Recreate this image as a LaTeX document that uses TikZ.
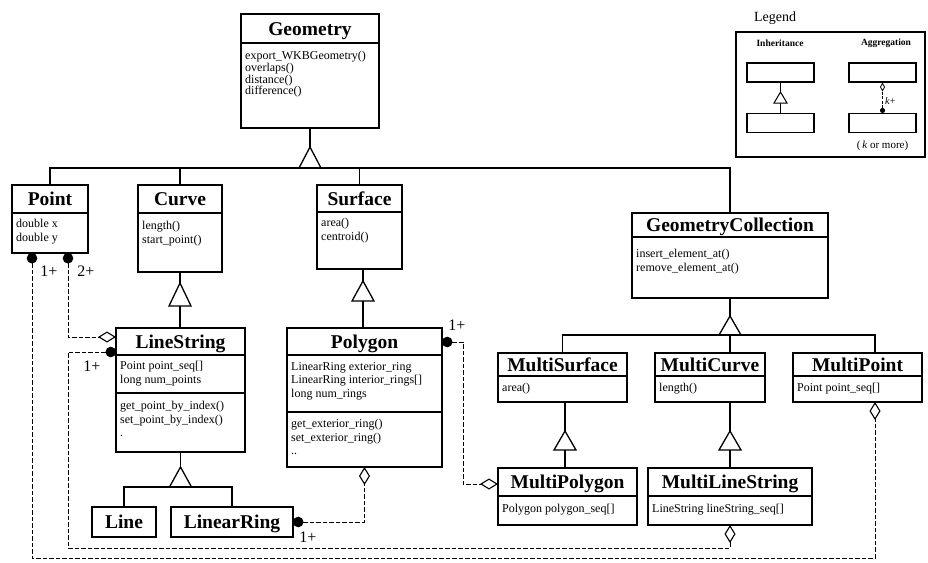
\documentclass[tikz,border=0pt]{standalone}
\usepackage{fontspec}
\setmainfont{Liberation Serif}
\usetikzlibrary{arrows.meta}

% class box from its corners: name, x1, y1, x2, y2
\newcommand\classnode[5]{%
  \node[classbox, minimum width={#4-#2}, minimum height={#5-#3}]
    (#1) at ({(#2+#4)/2},{(#3+#5)/2}) {};}
% compartment separator across a class box at height #2
\newcommand\classsep[2]{%
  \draw[sepline] (#1.west |- 0,#2) -- (#1.east |- 0,#2);}
% generalization triangle: name, x, apex y, base y
\newcommand\gentri[4]{%
  \coordinate (#1) at (#2,#3);
  \coordinate (#1-b) at (#2,#4);
  \draw[tri] (#1) -- (#2-11,#4) -- (#2+11,#4) -- cycle;}

\begin{document}
\begin{tikzpicture}[x=1pt,y=-1pt,
  classbox/.style={draw, line width=1.5pt, inner sep=0pt, outer sep=0pt},
  sepline/.style={line width=1.1pt},
  title/.style={font=\fontsize{19.5}{21}\selectfont\bfseries, inner sep=0pt, anchor=base},
  body/.style={font=\fontsize{12}{13.5}\selectfont, align=left, anchor=north west, inner sep=0pt},
  mult/.style={font=\fontsize{16}{18}\selectfont, inner sep=0pt},
  gen/.style={line width=1.2pt},
  tri/.style={line width=1.3pt, fill=white, line join=miter},
  agg/.style={line width=0.9pt, dash pattern=on 4.5pt off 2pt,
    {Circle[length=10.5pt]}-{Diamond[open,length=18pt,width=11pt,line width=1.1pt]}},
  aggsmall/.style={line width=0.8pt, dash pattern=on 3pt off 1.5pt,
    {Circle[length=5pt]}-{Diamond[open,length=9pt,width=5pt,line width=0.8pt]}},
  legframe/.style={draw, line width=1.1pt, inner sep=0pt},
  legbox/.style={draw, line width=1.1pt, inner sep=0pt, minimum width=67, minimum height=19},
  leghead/.style={font=\fontsize{9.5}{11}\selectfont\bfseries, inner sep=0pt},
]
\useasboundingbox (0,0) rectangle (928,562);

% ---------- classes ----------
\classnode{geom}{241}{14}{379}{128}
\classsep{geom}{43}
\node[title] (geomT) at (310,35) {Geometry};
\node[body, font=\fontsize{12}{11.8}\selectfont] (geomM) at (245,51)
  {export\_WKBGeometry()\\overlaps()\\distance()\\difference()};

\classnode{point}{12}{185}{88}{253}
\classsep{point}{213}
\node[title] (pointT) at (50,205.5) {Point};
\node[body] (pointA) at (16,219) {double x\\double y};

\classnode{curve}{138}{185}{222}{272}
\classsep{curve}{213}
\node[title] (curveT) at (180,205.5) {Curve};
\node[body] (curveM) at (142,221) {length()\\start\_point()};

\classnode{surface}{317}{185}{402}{269}
\classsep{surface}{212}
\node[title] (surfaceT) at (359.5,205) {Surface};
\node[body] (surfaceM) at (321,218) {area()\\centroid()};

\classnode{gc}{632}{213}{828}{298}
\classsep{gc}{237}
\node[title] (gcT) at (730,231.5) {GeometryCollection};
\node[body] (gcM) at (636,249) {insert\_element\_at()\\remove\_element\_at()};

\classnode{linestring}{116}{328}{245}{452}
\classsep{linestring}{355}
\classsep{linestring}{393}
\node[title] (linestringT) at (180.5,348) {LineString};
\node[body] (linestringA) at (120,361) {Point point\_seq[]\\long num\_points};
\node[body] (linestringM) at (120,401) {get\_point\_by\_index()\\set\_point\_by\_index()\\.};

\classnode{poly}{287}{328}{442}{467}
\classsep{poly}{355}
\classsep{poly}{412}
\node[title] (polyT) at (364.5,348) {Polygon};
\node[body] (polyA) at (291,362)
  {LinearRing exterior\_ring\\LinearRing interior\_rings[]\\long num\_rings};
\node[body] (polyM) at (291,419) {get\_exterior\_ring()\\set\_exterior\_ring()\\..};

\classnode{msurf}{498}{353}{627}{402}
\classsep{msurf}{376}
\node[title] (msurfT) at (562.5,371) {MultiSurface};
\node[body] (msurfM) at (502,383) {area()};

\classnode{mcurve}{655}{353}{765}{402}
\classsep{mcurve}{376}
\node[title] (mcurveT) at (710,371) {MultiCurve};
\node[body] (mcurveM) at (659,383) {length()};

\classnode{mpoint}{793}{353}{922}{402}
\classsep{mpoint}{376}
\node[title] (mpointT) at (857.5,371) {MultiPoint};
\node[body] (mpointA) at (797,383) {Point point\_seq[]};

\classnode{mpoly}{498}{468}{637}{525}
\classsep{mpoly}{496}
\node[title] (mpolyT) at (567.5,488.5) {MultiPolygon};
\node[body] (mpolyA) at (502,504) {Polygon polygon\_seq[]};

\classnode{mls}{648}{468}{812}{525}
\classsep{mls}{496}
\node[title] (mlsT) at (730,488.5) {MultiLineString};
\node[body] (mlsA) at (652,504) {LineString lineString\_seq[]};

\classnode{line}{92}{507}{156}{537}
\node[title] (lineT) at (124,528.5) {Line};

\classnode{lring}{171}{507}{293}{537}
\node[title] (lringT) at (232,528.5) {LinearRing};

% ---------- generalization ----------
\gentri{tG}{310}{147}{168}
\draw[gen] (geom.south) -- (tG);
\draw[gen] (point.north) |- (tG-b);
\draw[gen] (curve.north) |- (tG-b);
\draw[gen] (surface.north) |- (tG-b);
\draw[gen] (tG-b) -| (gc.north);

\gentri{tC}{180}{283}{306}
\draw[gen] (curve.south) -- (tC);
\draw[gen] (tC-b) -- (tC-b |- linestring.north);

\gentri{tS}{363}{281}{301}
\draw[gen] (tS |- surface.south) -- (tS);
\draw[gen] (tS-b) -- (tS-b |- poly.north);

\gentri{tGC}{730}{316}{335}
\coordinate (mpTop) at ([xshift=17.5pt]mpoint.north);
\draw[gen] (gc.south) -- (tGC);
\draw[gen] (msurf.north) |- (tGC-b) -| (mpTop);
\draw[gen] (tGC-b) -- (tGC-b |- mcurve.north);

\gentri{tMS}{565}{431}{450}
\draw[gen] (tMS |- msurf.south) -- (tMS);
\draw[gen] (tMS-b) -- (tMS-b |- mpoly.north);

\gentri{tMC}{730}{431}{450}
\draw[gen] (tMC |- mcurve.south) -- (tMC);
\draw[gen] (tMC-b) -- (mls.north);

\gentri{tL}{180.5}{467}{487}
\draw[gen] (tL |- linestring.south) -- (tL);
\draw[gen] (line.north) |- (tL-b) -| (lring.north);

% ---------- aggregation ----------
\coordinate (ptA) at ([xshift=-18pt]point.south);
\coordinate (ptB) at ([xshift=18pt]point.south);
\coordinate (mpBot) at ([xshift=17.5pt]mpoint.south);
\coordinate (lowrail) at (0,558);
\coordinate (midrail) at (68,548);
\coordinate (lsDiam) at (linestring.west |- 0,337);
\coordinate (lsDot) at (linestring.west |- 0,352);
\coordinate (polyDot) at (poly.east |- 0,342);
\coordinate (polyrail) at (463,484);
\coordinate (mpolyDiam) at (mpoly.west |- 0,484);

\draw[agg] (ptA) -- (ptA |- lowrail) -| (mpBot);
\draw[agg] (ptB) |- (lsDiam);
\draw[agg] (lsDot) -| (midrail) -| (mls.south);
\draw[agg] (polyDot) -| (polyrail) -- (mpolyDiam);
\draw[agg] (lring.east) -| (poly.south);

\node[mult] (mPt1) at (49,271) {1+};
\node[mult] (mPt2) at (86,271) {2+};
\node[mult] (mLs) at (92,366) {1+};
\node[mult] (mPoly) at (457,325) {1+};
\node[mult] (mLr) at (308,537) {1+};

% ---------- legend ----------
\node[font=\fontsize{14}{16}\selectfont, inner sep=0pt] (legT) at (775,18) {Legend};
\node[legframe, minimum width=189, minimum height=125] (legend) at (830.5,94.5) {};
\node[leghead] (legInh) at (780,43) {Inheritance};
\node[leghead] (legAgg) at (886,43) {Aggregation};
\node[legbox] (lgA) at (780.5,72.5) {};
\node[legbox] (lgB) at (780.5,123) {};
\node[legbox] (lgC) at (882.5,72.5) {};
\node[legbox] (lgD) at (882.5,123) {};
\coordinate (lgTri) at (780.5,92);
\coordinate (lgTri-b) at (780.5,103);
\draw[line width=1pt] (lgA.south) -- (lgTri);
\draw[line width=1pt] (lgTri-b) -- (lgB.north);
\draw[line width=1pt, fill=white] (lgTri) -- (774,103) -- (787,103) -- cycle;
\draw[aggsmall] (lgD.north) -- (lgC.south);
\node[font=\fontsize{10}{12}\selectfont, inner sep=0pt, anchor=west] (legK) at (885,101) {\textit{k}+};
\node[font=\fontsize{11}{13}\selectfont, inner sep=0pt] (legMore) at (882.5,146) {(\,\textit{k} or more)};
\end{tikzpicture}
\end{document}
